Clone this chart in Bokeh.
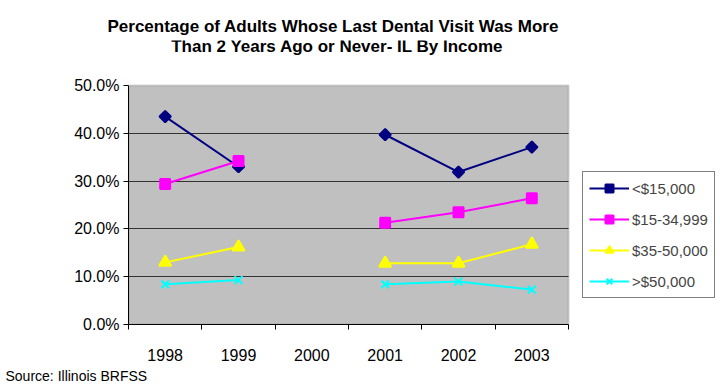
import math
from bokeh.plotting import figure
from bokeh.models import (Range1d, FixedTicker, NumeralTickFormatter, Legend, LegendItem,
                          Title, Label, BoxAnnotation, ColumnDataSource)
from bokeh.embed import file_html
from bokeh.resources import INLINE

nan = float("nan")
years = [1998, 1999, 2000, 2001, 2002, 2003]
year_labels = ["1998", "1999", "2000", "2001", "2002", "2003"]
series_names = ["<$15,000", "$15-34,999", "$35-50,000", ">$50,000"]
under_15k = [0.435, 0.330, nan, 0.397, 0.319, 0.371]
k15_35 = [0.294, 0.342, nan, 0.213, 0.235, 0.264]
k35_50 = [0.130, 0.162, nan, 0.128, 0.128, 0.168]
over_50k = [0.084, 0.093, nan, 0.084, 0.090, 0.073]
y_ticks = [0.0, 0.1, 0.2, 0.3, 0.4, 0.5]
y_max = 0.5
x_lo, x_hi = 1997.5, 2003.5

FONT = "Liberation Sans"

# Frame spans x 128..720, y 40..324; gray plot area sits at x 128..568, y 85..324
FRAME_L, FRAME_T, FRAME_B = 128, 40, 324
PLOT_R, PLOT_T = 568, 85
px_per_x = (PLOT_R - FRAME_L) / (x_hi - x_lo)
x_end = x_hi + (720 - PLOT_R) / px_per_x
y_end = y_max * (FRAME_B - FRAME_T) / (FRAME_B - PLOT_T)

p = figure(width=720, height=390, output_backend="svg", toolbar_location=None,
           x_range=Range1d(x_lo, x_end), y_range=Range1d(0, y_end),
           min_border_left=FRAME_L, min_border_right=0, min_border_top=FRAME_T,
           min_border_bottom=390 - FRAME_B, background_fill_color="white",
           border_fill_color="white")
p.outline_line_color = None

plot_bg = BoxAnnotation(left=x_lo, right=x_hi, bottom=0, top=y_max,
                        fill_color="#C0C0C0", fill_alpha=1.0,
                        line_color="#808080", line_width=2, level="image",
                        editable=False)
p.add_layout(plot_bg)

# axes
p.xaxis.ticker = FixedTicker(ticks=years, minor_ticks=[y - 0.5 for y in years] + [x_hi])
p.xaxis.bounds = (x_lo, x_hi)
p.xaxis.major_label_overrides = {y: l for y, l in zip(years, year_labels)}
p.xaxis.major_tick_out = 0
p.xaxis.major_tick_in = 0
p.xaxis.minor_tick_out = 5
p.xaxis.minor_tick_in = 0
p.xaxis.minor_tick_line_color = "black"
p.xaxis.axis_line_color = "black"
p.xaxis.major_label_standoff = 19
p.xaxis.major_label_text_font = FONT
p.xaxis.major_label_text_font_size = "16px"
p.xaxis.major_label_text_color = "black"

p.yaxis.ticker = FixedTicker(ticks=y_ticks, minor_ticks=[])
p.yaxis.bounds = (0, y_max)
p.yaxis.formatter = NumeralTickFormatter(format="0.0%")
p.yaxis.major_tick_out = 5
p.yaxis.major_tick_in = 0
p.yaxis.axis_line_color = "black"
p.yaxis.major_label_standoff = 4
p.yaxis.major_label_text_font = FONT
p.yaxis.major_label_text_font_size = "16px"
p.yaxis.major_label_text_color = "black"

p.xgrid.visible = False
p.ygrid.ticker = FixedTicker(ticks=[0.1, 0.2, 0.3, 0.4])
p.ygrid.cross_bounds = (x_lo, x_hi)
p.ygrid.grid_line_color = "#333333"
p.ygrid.grid_line_width = 1
p.ygrid.level = "underlay"

src = ColumnDataSource(dict(x=years, a=under_15k, b=k15_35, c=k35_50, d=over_50k))

styles = [
    ("a", "#000080", "square", 8, math.pi / 4),
    ("b", "#FF00FF", "square", 10, 0.0),
    ("c", "#FFFF00", "triangle", 12, 0.0),
    ("d", "#00FFFF", "x", 11, 0.0),
]
items = []
for name, (col, color, marker, size, ang) in zip(series_names, styles):
    ln = p.line("x", col, source=src, line_color=color, line_width=2)
    mk = p.scatter("x", col, source=src, marker=marker, size=size, angle=ang,
                   fill_color=color, line_color=color, line_width=2)
    items.append(LegendItem(label=name, renderers=[ln, mk]))

legend = Legend(items=items, location=(582 - FRAME_L, 26), orientation="vertical",
                label_text_font=FONT, label_text_font_size="15px",
                label_height=20, glyph_height=20, glyph_width=40,
                spacing=11, padding=6, margin=0, label_standoff=3,
                border_line_color="black", border_line_width=1,
                background_fill_color="white", background_fill_alpha=1.0)
p.add_layout(legend, "center")

title1 = Title(text="Percentage of Adults Whose Last Dental Visit Was More",
               align="left", offset=107 - FRAME_L, standoff=10,
               text_font=FONT, text_font_style="bold", text_font_size="17px",
               text_color="black")
p.add_layout(title1, "above")
title2 = Label(x=337 - FRAME_L, y=FRAME_B - 46, x_units="screen", y_units="screen",
               text="Than 2 Years Ago or Never- IL By Income",
               text_font=FONT, text_font_style="bold", text_font_size="17px",
               text_align="center", text_baseline="middle", text_color="black")
p.add_layout(title2)

source_lbl = Title(text="Source: Illinois BRFSS", align="left", offset=5 - FRAME_L,
                   text_font=FONT, text_font_style="normal", text_font_size="14px",
                   text_color="black", standoff=5)
p.add_layout(source_lbl, "below")

open("out.html", "w").write(file_html(p, INLINE))
